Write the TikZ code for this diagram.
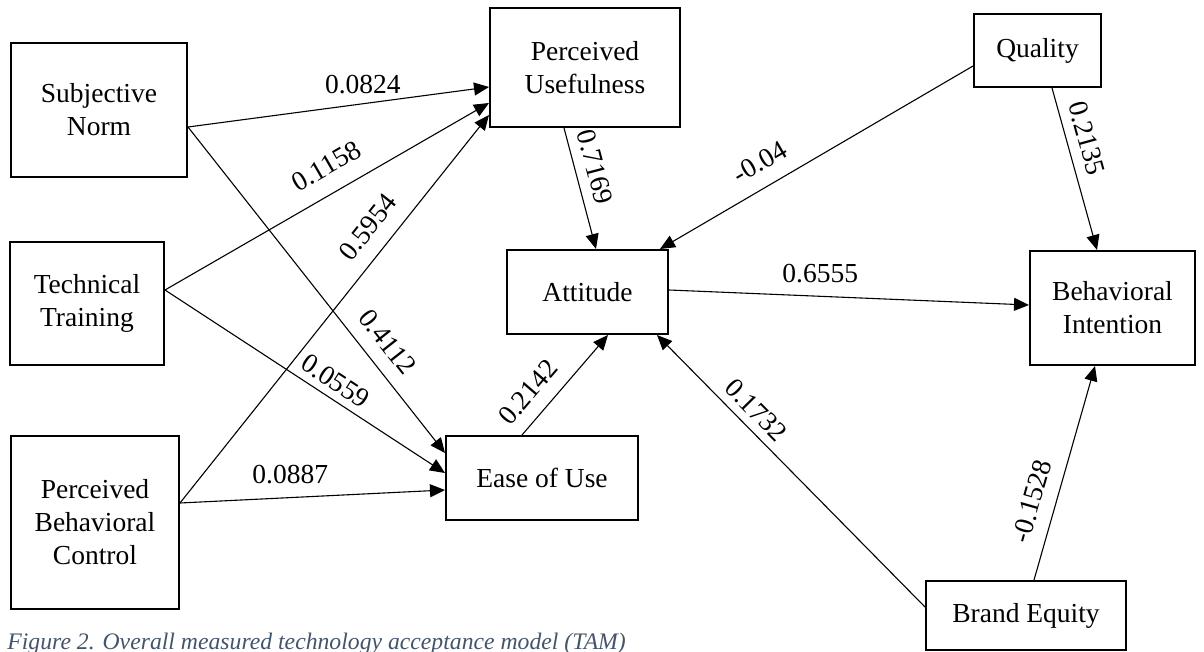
\documentclass[tikz,border=0pt]{standalone}
\usepackage{fontspec}
\setmainfont{Liberation Serif}
\usetikzlibrary{arrows.meta,calc}
\definecolor{captiongray}{HTML}{44546A}

\begin{document}
\begin{tikzpicture}[x=0.5pt,y=-0.5pt,
  box/.style={draw, line width=1pt, rectangle, inner sep=0pt, align=center,
              font=\fontsize{13.75}{16.5}\selectfont},
  link/.style={line width=0.55pt, -{Triangle[length=7.5pt,width=6.5pt]}},
  coef/.style={font=\fontsize{13.75}{16.5}\selectfont, inner sep=0pt},
]
\useasboundingbox (0,0) rectangle (1204,652);

% constructs
\node[box, minimum width=88pt,  minimum height=67pt]   (sn)   at (99,110)     {Subjective\\Norm};
\node[box, minimum width=77pt,  minimum height=61.5pt] (tt)   at (87,303.5)   {Technical\\Training};
\node[box, minimum width=84pt,  minimum height=86.5pt] (pbc)  at (95,522.5)   {Perceived\\Behavioral\\Control};
\node[box, minimum width=95pt,  minimum height=59.5pt] (pu)   at (585,67.5)   {Perceived\\Usefulness};
\node[box, minimum width=80.5pt,minimum height=42pt]   (att)  at (587.5,292)  {Attitude};
\node[box, minimum width=96pt,  minimum height=42pt]   (ease) at (542,478)    {Ease of Use};
\node[box, minimum width=63.5pt,minimum height=36.5pt] (q)    at (1037.5,50.5){Quality};
\node[box, minimum width=82.5pt,minimum height=57pt]   (bi)   at (1112.5,308) {Behavioral\\Intention};
\node[box, minimum width=100pt, minimum height=34.5pt] (be)   at (1026,615.5) {Brand Equity};

% paths with coefficients
\draw[link] ($(sn.east)+(0,17)$) -- node[coef, pos=0.581, yshift=9.5pt] (c1) {0.0824} ($(pu.west)+(0,19.5)$);
\draw[link] ($(sn.east)+(0,17)$) -- node[coef, sloped, pos=0.704, yshift=11.85pt] (c2) {0.4112} ($(ease.west)+(0,-25)$);
\draw[link] ($(tt.east)+(0,-13.5)$) -- node[coef, sloped, pos=0.54, yshift=13.25pt] (c3) {0.1158} ($(pu.west)+(0,35.5)$);
\draw[link] ($(tt.east)+(0,-13.5)$) -- node[coef, sloped, pos=0.576, yshift=8.65pt] (c4) {0.0559} ($(ease.west)+(0,-5)$);
\draw[link] ($(pbc.east)+(0,-19.5)$) -- node[coef, sloped, pos=0.671, yshift=12.5pt] (c5) {0.5954} ($(pu.west)+(0,47.5)$);
\draw[link] ($(pbc.east)+(0,-19.5)$) -- node[coef, pos=0.416, yshift=11.3pt] (c6) {0.0887} ($(ease.west)+(0,12)$);
\draw[link] ($(pu.south)+(-21,0)$) -- node[coef, sloped, pos=0.366, yshift=10pt] (c7) {0.7169} ($(att.north)+(8.5,0)$);
\draw[link] ($(q.west)+(0,15.5)$) -- node[coef, sloped, pos=0.642, yshift=12.25pt] (c8) {-0.04} ($(att.north)+(72.5,0)$);
\draw[link] ($(q.south)+(14.5,0)$) -- node[coef, sloped, pos=0.344, yshift=10.1pt] (c9) {0.2135} ($(bi.north)+(-15.5,0)$);
\draw[link] ($(att.east)+(0,-2)$) -- node[coef, pos=0.42, yshift=11.5pt] (c10) {0.6555} ($(bi.west)+(0,-3)$);
\draw[link] ($(ease.north)+(-20,0)$) -- node[coef, sloped, pos=0.276, yshift=11.5pt] (c11) {0.2142} ($(att.south)+(20.5,0)$);
\draw[link] ($(be.west)+(0,-8.5)$) -- node[coef, sloped, pos=0.677, yshift=9pt] (c12) {0.1732} ($(att.south)+(69.5,0)$);
\draw[link] ($(be.north)+(8,0)$) -- node[coef, sloped, pos=0.338, yshift=11.85pt] (c13) {-0.1528} ($(bi.south)+(-17.5,0)$);

% caption
\node[anchor=base west, inner sep=0pt, text=captiongray,
      font=\fontsize{11.85}{14}\selectfont\itshape] (cap) at (7,649)
      {Figure 2. Overall measured technology acceptance model (TAM)};
\end{tikzpicture}
\end{document}
